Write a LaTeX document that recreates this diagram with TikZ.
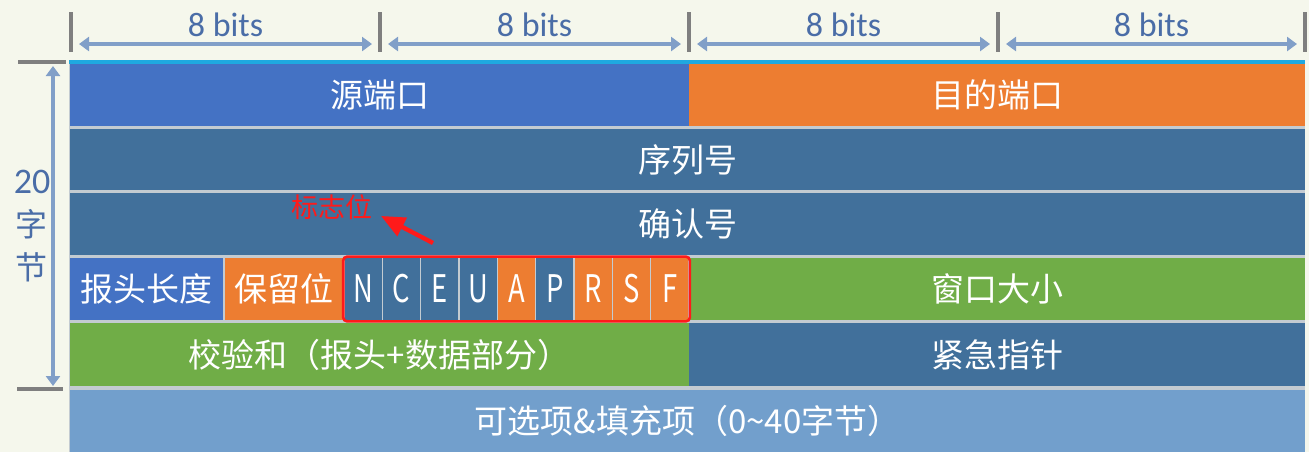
\documentclass[tikz,border=0pt]{standalone}
\usepackage{fontspec}
\setmainfont{Noto Sans CJK SC}
\newfontfamily\bitsfont{Carlito}
\newfontfamily\flagfont[FakeStretch=0.72]{Noto Sans CJK SC}
\usetikzlibrary{arrows.meta,fit}

\definecolor{paper}{HTML}{F5F7EC}
\definecolor{gapgray}{HTML}{C3CBD1}
\definecolor{portblue}{HTML}{4472C4}
\definecolor{portorange}{HTML}{ED7D31}
\definecolor{seqblue}{HTML}{41709B}
\definecolor{winggreen}{HTML}{70AD47}
\definecolor{optblue}{HTML}{729FCC}
\definecolor{dimblue}{HTML}{819FC8}
\definecolor{labelblue}{HTML}{4A6DA7}
\definecolor{tickgray}{HTML}{7F7F7F}
\definecolor{topcyan}{HTML}{1FA9E0}
\definecolor{flagred}{HTML}{FF1A1A}

\tikzset{
  field/.style={inner sep=0pt,text=white,font=\fontsize{16.5}{18}\selectfont},
  flagbit/.style={field,font=\flagfont\fontsize{19}{19}\selectfont},
  dimarrow/.style={draw=dimblue,line width=2.4pt,{Triangle[length=5pt,width=7pt]}-{Triangle[length=5pt,width=7pt]}},
  tick/.style={draw=tickgray,line width=1.6pt},
  bitslabel/.style={text=labelblue,font=\bitsfont\fontsize{17}{18}\selectfont}
}

% name, x1, y1, x2, y2, colour, text (pixel units)
\newcommand{\field}[7]{%
  \node[field,fill=#6,minimum width={(#4-#2)*0.5pt},minimum height={(#5-#3)*0.5pt}] (#1) at ({(#2+#4)/2},{(#3+#5)/2}) {#7};}

\begin{document}
\begin{tikzpicture}[x=0.5pt,y=-0.5pt]
  \useasboundingbox[fill=paper] (0,0) rectangle (1309,452);
  \fill[gapgray] (69,61) rectangle (1305,452);
  \fill[topcyan] (69,60) rectangle (1305,64);

  % top: 8 bits per column
  \foreach \i/\x in {0/71,1/380,2/689,3/998,4/1305} {
    \coordinate (tick\i) at (\x,44);
    \draw[tick] (\x,12) -- (\x,52);
  }
  \foreach \i [evaluate=\i as \j using int(\i+1)] in {0,1,2,3} {
    \draw[dimarrow,shorten <=4pt,shorten >=4pt] (tick\i) -- node[bitslabel,above=-1pt] {8 bits} (tick\j);
  }

  % left: 20 bytes
  \draw[tick] (18,62) -- (66,62);
  \draw[tick] (17,389) -- (63,389);
  \coordinate (hdrtop) at (53,66);
  \coordinate (hdrbot) at (53,386);
  \draw[dimarrow] (hdrtop) -- (hdrbot);
  \node[text=labelblue,align=center,font=\fontsize{16}{21.5}\selectfont] (hdrlen) at (32,226) {{\bitsfont\fontsize{18}{21.5}\selectfont 20}\\字\\节};

  % header fields
  \field{srcport}{70}{64}{689}{126}{portblue}{源端口}
  \field{dstport}{689}{64}{1305}{126}{portorange}{目的端口}
  \field{seqnum}{70}{129}{1305}{190}{seqblue}{序列号}
  \field{acknum}{70}{193}{1305}{255}{seqblue}{确认号}
  \field{hdrlength}{70}{258}{223}{320}{portblue}{报头长度}
  \field{reserved}{225}{258}{343}{320}{portorange}{保留位}
  \foreach \l/\c [count=\i from 0] in {N/seqblue,C/seqblue,E/seqblue,U/seqblue,A/portorange,P/seqblue,R/portorange,S/portorange,F/portorange} {
    \node[flagbit,fill=\c,minimum width=18.6pt,minimum height=31pt] (flag\i) at ({363.2+\i*38.33},289) {\l};
  }
  \field{window}{689}{258}{1305}{320}{winggreen}{窗口大小}
  \field{checksum}{70}{323}{689}{386}{winggreen}{校验和（报头+数据部分）}
  \field{urgent}{689}{323}{1305}{386}{seqblue}{紧急指针}
  \field{options}{70}{390}{1305}{452}{optblue}{可选项\&填充项（0\textasciitilde40字节）}

  % flags
  \node[draw=flagred,line width=1.3pt,rounded corners=2pt,inner sep=0.5pt,fit=(flag0)(flag8)] (flagbox) {};
  \node[text=flagred,inner sep=1pt,font=\fontsize{13.5}{14}\selectfont] (flaglabel) at (332,207) {标志位};
  \coordinate (flagtail) at (433,243);
  \draw[flagred,line width=2.2pt,-{Triangle[length=12pt,width=10pt]}] (flagtail) -- ([xshift=3pt,yshift=3pt]flaglabel.south east);
\end{tikzpicture}
\end{document}
